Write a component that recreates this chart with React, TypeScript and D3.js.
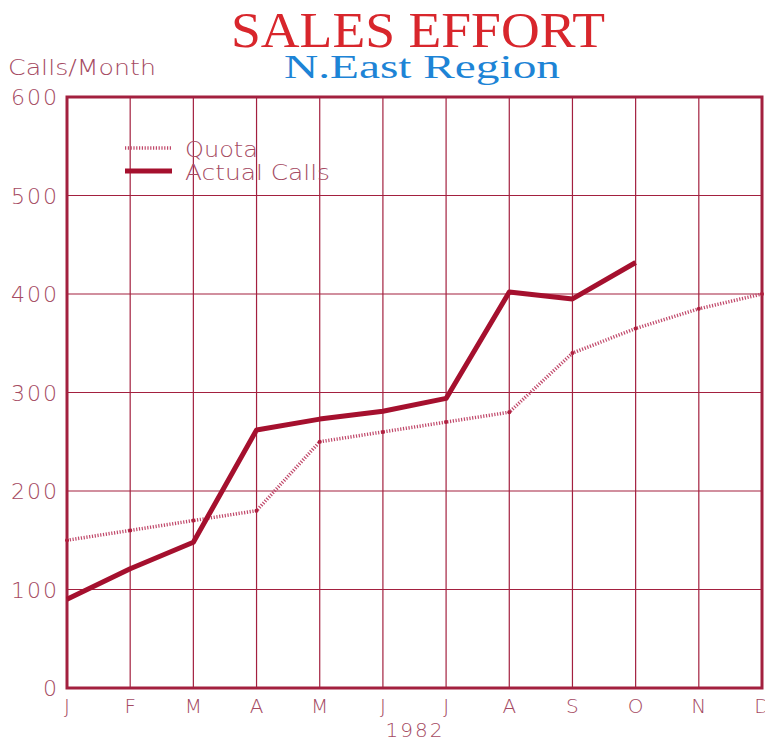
import React from "react";
import * as d3 from "d3";

const months = ["J", "F", "M", "A", "M", "J", "J", "A", "S", "O", "N", "D"];
const quota = [150, 160, 170, 180, 250, 260, 270, 280, 340, 365, 385, 400];
const actual = [90, 121, 148, 262, 273, 281, 294, 402, 395, 432];
const yTicks = [0, 100, 200, 300, 400, 500, 600];

const W = 765;
const H = 743;
const L = 67, R = 762, T = 97, B = 688;

export default function App() {
  const x = d3.scaleLinear().domain([0, 11]).range([L, R]);
  const y = d3.scaleLinear().domain([0, 600]).range([B, T]);
  const line = d3.line<number>().x((_, i) => x(i)).y((d) => y(d));
  const grid = "#a3203f";
  const labelColor = "#a54a62";
  const font = "'DejaVu Sans', sans-serif";
  return (
    <svg width={W} height={H} style={{ position: "absolute", left: 0, top: 0 }}>
      <rect width={W} height={H} fill="#fff" />
      <text x={231} y={47} textLength={374} lengthAdjust="spacingAndGlyphs" fontFamily="'Liberation Serif', serif" fontSize={50} fill="#d8262c">
        SALES EFFORT
      </text>
      <text x={284} y={78} textLength={276} lengthAdjust="spacingAndGlyphs" fontFamily="'Liberation Serif', serif" fontSize={34} fill="#1d84d6">
        N.East Region
      </text>
      <text x={8} y={75} textLength={148} lengthAdjust="spacingAndGlyphs" fontFamily={font} fontWeight={200} fontSize={21} fill={labelColor}>
        Calls/Month
      </text>
      {months.map((_, i) => (
        <line key={"v" + i} x1={x(i)} x2={x(i)} y1={T} y2={B} stroke={grid} strokeWidth={1.2} />
      ))}
      {yTicks.map((t) => (
        <line key={"h" + t} x1={L} x2={R} y1={y(t)} y2={y(t)} stroke={grid} strokeWidth={1.2} />
      ))}
      <rect x={L} y={T} width={R - L} height={B - T} fill="none" stroke={grid} strokeWidth={3} />
      {yTicks.map((t) => (
        <text key={"t" + t} x={L - 8} y={y(t) + 8} textAnchor="end" letterSpacing={2} fontFamily={font} fontWeight={200} fontSize={22} fill={labelColor}>
          {t}
        </text>
      ))}
      {months.map((m, i) => (
        <text key={"m" + i} x={x(i)} y={713} textAnchor="middle" fontFamily={font} fontWeight={200} fontSize={20} fill={labelColor}>
          {m}
        </text>
      ))}
      <text x={415} y={737} textAnchor="middle" letterSpacing={2} fontFamily={font} fontWeight={200} fontSize={20} fill={labelColor}>
        1982
      </text>
      <path d={line(quota) || ""} fill="none" stroke="#c0486a" strokeWidth={3.5} strokeDasharray="1.2,1.6" />
      {quota.map((q, i) => (
        <circle key={"q" + i} cx={x(i)} cy={y(q)} r={2} fill="#b0203f" />
      ))}
      <path d={line(actual) || ""} fill="none" stroke="#a5102e" strokeWidth={5} strokeLinejoin="round" />
      <line x1={125} x2={172} y1={148} y2={148} stroke="#c0486a" strokeWidth={3.5} strokeDasharray="1.2,1.6" />
      <text x={185} y={157} textLength={73} lengthAdjust="spacingAndGlyphs" fontFamily={font} fontWeight={200} fontSize={21} fill={labelColor}>Quota</text>
      <line x1={125} x2={172} y1={171} y2={171} stroke="#a5102e" strokeWidth={5} />
      <text x={185} y={180} textLength={145} lengthAdjust="spacingAndGlyphs" fontFamily={font} fontWeight={200} fontSize={21} fill={labelColor}>Actual Calls</text>
    </svg>
  );
}
